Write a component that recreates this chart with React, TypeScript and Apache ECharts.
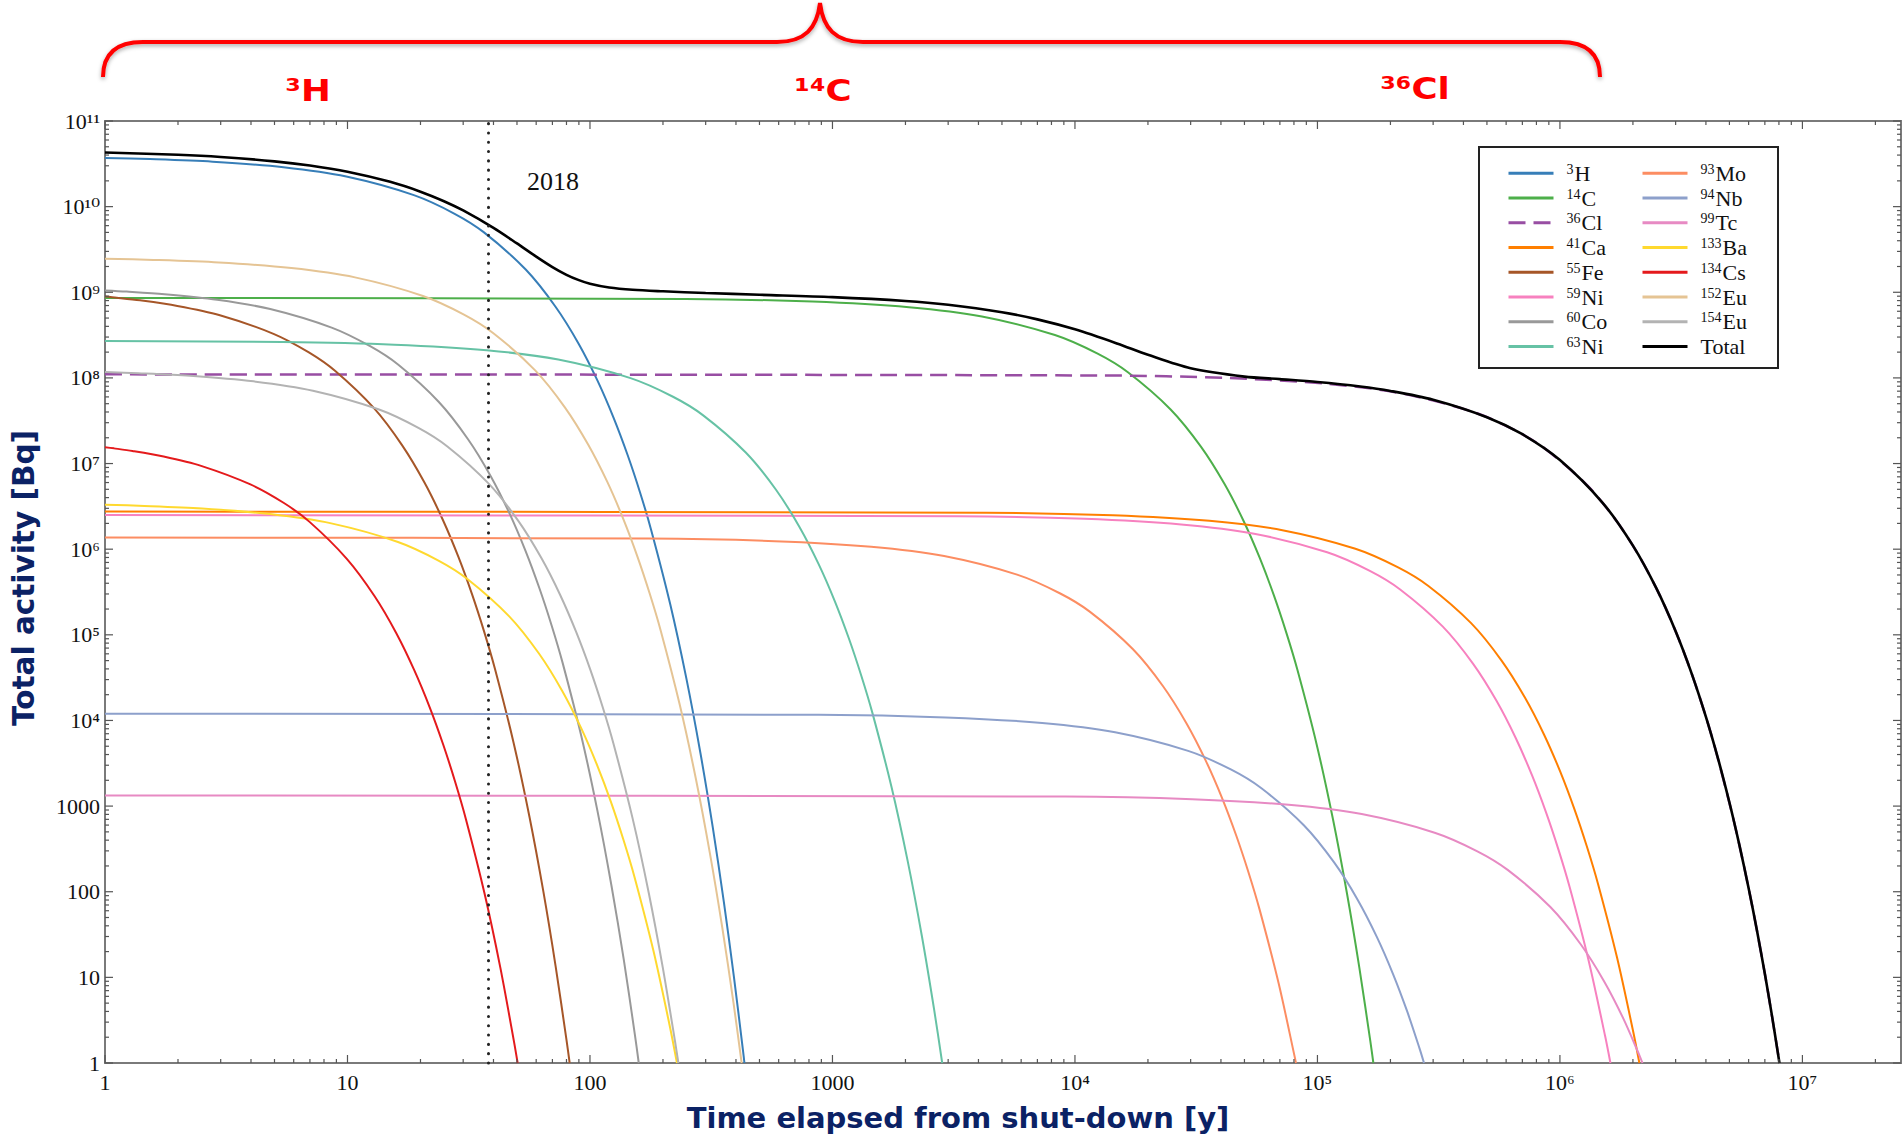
import React, { useEffect, useRef } from "react";
import * as echarts from "echarts";

const WIDTH = 1903;
const HEIGHT = 1137;

const X_MIN = 1;
const X_MAX = 2.55e7;
const Y_MIN = 1;
const Y_MAX = 1e11;

const X_TICK_LABELS = ["1", "10", "100", "1000", "10⁴", "10⁵", "10⁶", "10⁷"];
const Y_TICK_LABELS = ["1", "10", "100", "1000", "10⁴", "10⁵", "10⁶", "10⁷", "10⁸", "10⁹", "10¹⁰", "10¹¹"];

const LEGEND_COL1 = ["³H", "¹⁴C", "³⁶Cl", "⁴¹Ca", "⁵⁵Fe", "⁵⁹Ni", "⁶⁰Co", "⁶³Ni"];
const LEGEND_COL2 = ["⁹³Mo", "⁹⁴Nb", "⁹⁹Tc", "¹³³Ba", "¹³⁴Cs", "¹⁵²Eu", "¹⁵⁴Eu", "Total"];

const BAND_LABELS = ["³H", "¹⁴C", "³⁶Cl"];
const SHUTDOWN_OFFSET = 38;
const SHUTDOWN_LABEL = "2018";
const X_TITLE = "Time elapsed from shut-down [y]";
const Y_TITLE = "Total activity [Bq]";

type Pt = [number, number];

const H3: Pt[] = [[1, 3.7e10], [1.533, 3.59e10], [2.778, 3.348e10], [5.444, 2.882e10], [9.888, 2.244e10], [18.78, 1.361e10], [27.66, 8.255e9], [36.55, 5.006e9], [54.33, 1.842e9], [72.1, 6.778e8], [89.9, 2.493e8], [107.65, 9.17e7], [125.4, 3.374e7], [143.2, 1.241e7], [161.0, 4.566e6], [178.75, 1.68e6], [214.3, 2.273e5], [249.85, 3.077e4], [285.4, 4163], [320.95, 563.5], [356.5, 76.3], [392.05, 10.3], [427.6, 1.397], [433.5, 1]];
const C14: Pt[] = [[1, 8.6e8], [249, 8.345e8], [828, 7.781e8], [2068, 6.698e8], [4134, 5.216e8], [8268, 3.164e8], [12401, 1.919e8], [16535, 1.164e8], [24802, 4.282e7], [33069, 1.576e7], [41336, 5.795e6], [49603, 2.132e6], [57870, 7.843e5], [66137, 2.885e5], [74404, 1.061e5], [82671, 3.904e4], [99205, 5284], [115739, 715.1], [132273, 96.75], [148807, 13.1], [165341, 1.772], [170078, 1]];
const CL36: Pt[] = [[1, 1.1e8], [13029, 1.0674e8], [43428, 9.953e7], [108568, 8.567e7], [217136, 6.672e7], [434271, 4.047e7], [651406, 2.454e7], [868541, 1.488e7], [1.3028e6, 5.477e6], [1.7371e6, 2.015e6], [2.1714e6, 7.412e5], [2.6056e6, 2.727e5], [3.0399e6, 1.003e5], [3.4742e6, 3.691e4], [3.9084e6, 1.357e4], [4.3427e6, 4994], [5.2112e6, 675.8], [6.0798e6, 91.47], [6.9483e6, 12.38], [7.8169e6, 1.675], [8.041e6, 1]];
const CA41: Pt[] = [[1, 2.75e6], [4303, 2.669e6], [14342, 2.488e6], [35853, 2.142e6], [71706, 1.668e6], [143411, 1.012e6], [215116, 6.135e5], [286821, 3.722e5], [430231, 1.369e5], [573641, 5.038e4], [717051, 1.853e4], [860461, 6817], [1.00387e6, 2508], [1.14728e6, 922.6], [1.29069e6, 339.4], [1.4341e6, 124.9], [1.72092e6, 16.9], [2.00774e6, 2.287], [2.12634e6, 1]];
const FE55: Pt[] = [[1, 8.9e8], [1.119, 8.637e8], [1.395, 8.053e8], [1.988, 6.931e8], [2.977, 5.398e8], [4.953, 3.274e8], [6.93, 1.986e8], [8.906, 1.204e8], [12.86, 4.431e7], [16.81, 1.63e7], [20.77, 5.997e6], [24.72, 2.206e6], [28.67, 8.117e5], [32.62, 2.986e5], [36.58, 1.098e5], [40.53, 4.041e4], [48.44, 5468], [56.34, 740], [64.25, 100.1], [72.15, 13.55], [80.06, 1.834], [82.46, 1]];
const NI59: Pt[] = [[1, 2.5e6], [3290, 2.426e6], [10966, 2.262e6], [27413, 1.947e6], [54826, 1.516e6], [109651, 9.198e5], [164476, 5.578e5], [219301, 3.383e5], [328951, 1.245e5], [438601, 4.58e4], [548251, 1.685e4], [657901, 6198], [767551, 2280], [877201, 838.8], [986851, 308.5], [1.0965e6, 113.5], [1.3158e6, 15.36], [1.5351e6, 2.079], [1.6154e6, 1]];
const CO60: Pt[] = [[1, 1.05e9], [1.228, 1.019e9], [1.76, 9.5e8], [2.901, 8.177e8], [4.802, 6.368e8], [8.603, 3.863e8], [12.4, 2.343e8], [16.21, 1.421e8], [23.81, 5.228e7], [31.41, 1.924e7], [39.02, 7.075e6], [46.62, 2.603e6], [54.22, 9.576e5], [61.82, 3.523e5], [69.43, 1.296e5], [77.03, 4.767e4], [92.24, 6451], [107.4, 873.1], [122.6, 118.1], [137.9, 15.99], [153.1, 2.164], [158.9, 1]];
const NI63: Pt[] = [[1, 2.7e8], [5.38, 2.62e8], [15.6, 2.443e8], [37.5, 2.103e8], [74, 1.638e8], [147, 9.933e7], [220, 6.024e7], [293, 3.654e7], [439, 1.344e7], [585, 4.946e6], [731, 1.819e6], [877, 6.693e5], [1023, 2.462e5], [1169, 9.059e4], [1315, 3.332e4], [1461, 1.226e4], [1753, 1659], [2045, 224.5], [2337, 30.38], [2629, 4.112], [2835, 1]];
const MO93: Pt[] = [[1, 1.37e6], [174, 1.329e6], [578, 1.24e6], [1444, 1.067e6], [2887, 8.309e5], [5772, 5.04e5], [8658, 3.057e5], [11543, 1.854e5], [17314, 6.821e4], [23085, 2.51e4], [28856, 9231], [34627, 3396], [40398, 1249], [46169, 459.6], [51940, 169.1], [57711, 62.2], [69253, 8.417], [80795, 1.139], [81545, 1]];
const NB94: Pt[] = [[1, 1.2e4], [879, 1.1645e4], [2930, 1.0858e4], [7323, 9346], [14645, 7278], [29289, 4415], [43933, 2677], [58577, 1624], [87865, 597.5], [117153, 219.8], [146441, 80.86], [175729, 29.75], [205017, 10.94], [234305, 4.026], [263593, 1.481], [275103, 1]];
const TC99: Pt[] = [[1, 1330], [9134, 1291], [30444, 1203], [76108, 1036], [152216, 806.7], [304431, 489.3], [456646, 296.7], [608861, 180], [913291, 66.22], [1.21772e6, 24.36], [1.52215e6, 8.962], [1.82658e6, 3.297], [2.13101e6, 1.213], [2.18977e6, 1]];
const BA133: Pt[] = [[1, 3.3e6], [1.454, 3.202e6], [2.515, 2.986e6], [4.787, 2.57e6], [8.575, 2.001e6], [16.15, 1.214e6], [23.72, 7.363e5], [31.3, 4.466e5], [46.45, 1.643e5], [61.6, 6.044e4], [76.75, 2.224e4], [91.89, 8180], [107.0, 3009], [122.2, 1107], [137.3, 407.2], [152.5, 149.8], [182.8, 20.27], [213.1, 2.744], [228.4, 1]];
const CS134: Pt[] = [[1, 1.55e7], [1.089, 1.504e7], [1.298, 1.4025e7], [1.745, 1.207e7], [2.49, 9.401e6], [3.979, 5.702e6], [5.469, 3.459e6], [6.958, 2.098e6], [9.937, 7.717e5], [12.92, 2.84e5], [15.9, 1.044e5], [18.87, 3.842e4], [21.85, 1.414e4], [24.83, 5200], [27.81, 1913], [30.79, 703.7], [36.75, 95.23], [42.71, 12.89], [48.66, 1.744], [50.32, 1]];
const EU152: Pt[] = [[1, 2.46e9], [1.584, 2.387e9], [2.948, 2.226e9], [5.87, 1.916e9], [10.74, 1.492e9], [20.48, 9.05e8], [30.22, 5.489e8], [39.96, 3.329e8], [59.43, 1.225e8], [78.91, 4.507e7], [98.39, 1.658e7], [117.9, 6.099e6], [137.3, 2.244e6], [156.8, 8.254e5], [176.3, 3.036e5], [195.8, 1.117e5], [234.7, 1.511e4], [273.7, 2045], [312.6, 276.8], [351.6, 37.46], [390.6, 5.07], [422.2, 1]];
const EU154: Pt[] = [[1, 1.17e8], [1.372, 1.135e8], [2.241, 1.059e8], [4.102, 9.112e7], [7.204, 7.096e7], [13.41, 4.304e7], [19.61, 2.61e7], [25.82, 1.583e7], [38.22, 5.825e6], [50.63, 2.143e6], [63.04, 7.883e5], [75.45, 2.9e5], [87.86, 1.067e5], [100.3, 3.925e4], [112.7, 1.444e4], [125.1, 5312], [149.9, 718.8], [174.7, 97.29], [199.5, 13.16], [224.3, 1.782], [231.5, 1]];
const TOTAL: Pt[] = [[1, 4.28e10], [2, 4.03e10], [3, 3.8e10], [5, 3.38e10], [7, 3.02e10], [10, 2.555e10], [15, 1.948e10], [20, 1.496e10], [25, 1.157e10], [30, 9.02e9], [40, 5.65e9], [50, 3.72e9], [60, 2.61e9], [70, 1.97e9], [80, 1.6e9], [90, 1.386e9], [100, 1.258e9], [120, 1.135e9], [150, 1.068e9], [200, 1.026e9], [300, 9.8e8], [500, 9.35e8], [1000, 8.78e8], [2000, 7.91e8], [3000, 7.135e8], [5000, 5.84e8], [7000, 4.825e8], [1e4, 3.69e8], [1.5e4, 2.51e8], [2e4, 1.86e8], [3e4, 1.296e8], [5e4, 1.036e8], [7e4, 9.68e7], [1e5, 8.97e7], [1.5e5, 7.95e7], [2e5, 7.05e7], [3e5, 5.56e7], [5e5, 3.48e7], [7e5, 2.2e7], [1e6, 1.1e7], [1.5e6, 3.48e6], [2e6, 1.1e6], [2.5e6, 3.48e5], [3e6, 1.1e5], [3.5e6, 3.48e4], [4e6, 1.1e4], [4.5e6, 3480], [5e6, 1100], [5.5e6, 348], [6e6, 110], [6.5e6, 34.8], [7e6, 11], [7.5e6, 3.48], [8.04e6, 1]];

const SERIES_DEFS: { name: string; data: Pt[]; color: string; dashed?: boolean }[] = [
  { name: "³H", data: H3, color: "#377eb8" },
  { name: "¹⁴C", data: C14, color: "#4daf4a" },
  { name: "³⁶Cl", data: CL36, color: "#984ea3", dashed: true },
  { name: "⁴¹Ca", data: CA41, color: "#ff7f00" },
  { name: "⁵⁵Fe", data: FE55, color: "#a65628" },
  { name: "⁵⁹Ni", data: NI59, color: "#f781bf" },
  { name: "⁶⁰Co", data: CO60, color: "#999999" },
  { name: "⁶³Ni", data: NI63, color: "#66c2a5" },
  { name: "⁹³Mo", data: MO93, color: "#fc8d62" },
  { name: "⁹⁴Nb", data: NB94, color: "#8da0cb" },
  { name: "⁹⁹Tc", data: TC99, color: "#e78ac3" },
  { name: "¹³³Ba", data: BA133, color: "#ffd92f" },
  { name: "¹³⁴Cs", data: CS134, color: "#e41a1c" },
  { name: "¹⁵²Eu", data: EU152, color: "#e5c494" },
  { name: "¹⁵⁴Eu", data: EU154, color: "#b3b3b3" },
  { name: "Total", data: TOTAL, color: "#000000" },
];

const NAVY = "#0b2265";
const SERIF = '"Liberation Serif", "DejaVu Serif", serif';
const SANS = '"DejaVu Sans", sans-serif';
const SUP_DIGITS = "⁰¹²³⁴⁵⁶⁷⁸⁹";

const BRACE_D =
  "M103,77 C103,55 115,42 143,42 L777,42 C805,42 817,28 820,3 C823,28 835,42 863,42 L1560,42 C1588,42 1600,55 1600,77";
echarts.graphic.registerShape("brace", echarts.graphic.extendPath(BRACE_D, {}));

function tickLabel(labels: string[]) {
  return (v: number) => {
    const l = Math.log10(v);
    const e = Math.round(l);
    if (Math.abs(l - e) > 1e-6) return "";
    return labels[e] ?? "";
  };
}

function legendRich(name: string) {
  let i = 0;
  let mass = "";
  while (i < name.length && SUP_DIGITS.indexOf(name[i]) >= 0) {
    mass += String(SUP_DIGITS.indexOf(name[i]));
    i++;
  }
  const el = name.slice(i);
  return mass ? `{s|${mass}}{b|${el}}` : `{b|${el}}`;
}

function bandLabel(text: string, x: number, y: number) {
  return {
    type: "text",
    x,
    y,
    scaleX: 1.15,
    silent: true,
    style: { text, fill: "#ff0000", font: `bold 31px ${SANS}`, align: "center", verticalAlign: "middle" },
  };
}

function buildOption() {
  const xTickValues = X_TICK_LABELS.map((_, i) => Math.pow(10, i));
  const yTickValues = Y_TICK_LABELS.map((_, i) => Math.pow(10, i));

  const xTicks: number[][] = [];
  for (let d = 0; d <= 7; d++) {
    for (let k = 1; k <= 9; k++) {
      const v = k * Math.pow(10, d);
      if (v <= X_MAX) xTicks.push([v, Y_MIN, k === 1 ? 1 : 0]);
    }
  }
  const yTicks: number[][] = [];
  for (let d = 0; d <= 11; d++) {
    for (let k = 1; k <= 9; k++) {
      const v = k * Math.pow(10, d);
      if (v <= Y_MAX) yTicks.push([X_MIN, v, k === 1 ? 1 : 0]);
    }
  }

  const tickStyle = { stroke: "#555", lineWidth: 1.2 };

  const lineSeries: any[] = SERIES_DEFS.map((s) => {
    const isTotal = s.name === "Total";
    const ser: any = {
      type: "line",
      name: s.name,
      data: s.data,
      color: s.color,
      symbol: "none",
      showSymbol: false,
      smooth: 0.3,
      clip: true,
      silent: true,
      z: isTotal ? 4 : 3,
      lineStyle: {
        color: s.color,
        width: isTotal ? 2.6 : s.dashed ? 2.5 : 2,
        type: s.dashed ? [17, 8] : "solid",
      },
      itemStyle: { color: s.color },
      emphasis: { disabled: true },
    };
    if (isTotal) {
      ser.markLine = {
        silent: true,
        symbol: ["none", "none"],
        label: { show: false },
        lineStyle: { color: "#222", width: 3, type: [0.1, 9.2], cap: "round" },
        data: [{ xAxis: SHUTDOWN_OFFSET }],
      };
    }
    return ser;
  });

  const tickSeries: any[] = [
    {
      type: "custom",
      name: "xticks",
      silent: true,
      z: 5,
      data: xTicks,
      encode: { x: 0, y: 1 },
      renderItem: (_p: any, api: any) => {
        const v = api.value(0);
        const len = api.value(2) ? 8 : 4;
        const b = api.coord([v, Y_MIN]);
        const t = api.coord([v, Y_MAX]);
        return {
          type: "group",
          children: [
            { type: "line", shape: { x1: b[0], y1: b[1], x2: b[0], y2: b[1] - len }, style: tickStyle },
            { type: "line", shape: { x1: t[0], y1: t[1], x2: t[0], y2: t[1] + len }, style: tickStyle },
          ],
        };
      },
    },
    {
      type: "custom",
      name: "yticks",
      silent: true,
      z: 5,
      data: yTicks,
      encode: { x: 0, y: 1 },
      renderItem: (_p: any, api: any) => {
        const v = api.value(1);
        const len = api.value(2) ? 8 : 4;
        const l = api.coord([X_MIN, v]);
        const r = api.coord([X_MAX, v]);
        return {
          type: "group",
          children: [
            { type: "line", shape: { x1: l[0], y1: l[1], x2: l[0] + len, y2: l[1] }, style: tickStyle },
            { type: "line", shape: { x1: r[0], y1: r[1], x2: r[0] - len, y2: r[1] }, style: tickStyle },
          ],
        };
      },
    },
  ];

  const legendCommon = {
    orient: "vertical",
    top: 162.3,
    itemWidth: 45,
    itemHeight: 22,
    itemGap: 2.76,
    padding: 0,
    selectedMode: false,
    z: 10,
    itemStyle: { opacity: 0 },
    lineStyle: { width: 3 },
    formatter: legendRich,
    textStyle: {
      fontFamily: SERIF,
      fontSize: 22,
      lineHeight: 22,
      color: "#111",
      padding: [0, 0, 0, 8],
      rich: {
        s: { fontFamily: SERIF, fontSize: 14, lineHeight: 14, color: "#111", verticalAlign: "top", padding: [0, 1, 8, 0] },
        b: { fontFamily: SERIF, fontSize: 22, lineHeight: 22, color: "#111" },
      },
    },
  };

  return {
    animation: false,
    backgroundColor: "#ffffff",
    textStyle: { fontFamily: SERIF },
    grid: {
      left: 105,
      right: 2,
      top: 121,
      bottom: 74,
      show: true,
      borderColor: "#7a7a7a",
      borderWidth: 2,
      backgroundColor: "transparent",
      containLabel: false,
      outerBoundsMode: "none",
    },
    xAxis: {
      type: "log",
      logBase: 10,
      min: X_MIN,
      max: X_MAX,
      axisLine: { show: false },
      axisTick: { show: false },
      splitLine: { show: false },
      minorTick: { show: false },
      axisLabel: {
        customValues: xTickValues,
        formatter: tickLabel(X_TICK_LABELS),
        fontFamily: SERIF,
        fontSize: 22,
        color: "#111",
        margin: 8,
      },
    },
    yAxis: {
      type: "log",
      logBase: 10,
      min: Y_MIN,
      max: Y_MAX,
      axisLine: { show: false },
      axisTick: { show: false },
      splitLine: { show: false },
      minorTick: { show: false },
      axisLabel: {
        customValues: yTickValues,
        formatter: tickLabel(Y_TICK_LABELS),
        fontFamily: SERIF,
        fontSize: 22,
        color: "#111",
        margin: 5,
      },
    },
    legend: [
      { ...legendCommon, left: 1507, data: LEGEND_COL1 },
      { ...legendCommon, left: 1641, data: LEGEND_COL2 },
    ],
    series: [...lineSeries, ...tickSeries],
    graphic: [
      {
        type: "brace",
        x: 0,
        y: 0,
        silent: true,
        style: {
          stroke: "#ff0000",
          lineWidth: 4,
          fill: "none",
          shadowBlur: 4,
          shadowColor: "rgba(0,0,0,0.35)",
          shadowOffsetY: 2,
        },
      },
      bandLabel(BAND_LABELS[0], 308, 90),
      bandLabel(BAND_LABELS[1], 823, 90),
      bandLabel(BAND_LABELS[2], 1415, 88),
      {
        type: "text",
        x: 527,
        y: 181,
        silent: true,
        style: { text: SHUTDOWN_LABEL, fill: "#111", font: `26px ${SERIF}`, align: "left", verticalAlign: "middle" },
      },
      {
        type: "rect",
        z: 3,
        silent: true,
        shape: { x: 1479, y: 147, width: 299, height: 221 },
        style: { fill: "#ffffff", stroke: "#222", lineWidth: 2 },
      },
      {
        type: "text",
        x: 958,
        y: 1118,
        silent: true,
        style: { text: X_TITLE, fill: NAVY, font: `bold 29px ${SANS}`, align: "center", verticalAlign: "middle" },
      },
      {
        type: "text",
        x: 24,
        y: 578,
        rotation: Math.PI / 2,
        silent: true,
        style: { text: Y_TITLE, fill: NAVY, font: `bold 29.5px ${SANS}`, align: "center", verticalAlign: "middle" },
      },
    ],
  };
}

export default function App() {
  const ref = useRef<HTMLDivElement>(null);
  useEffect(() => {
    if (!ref.current) return;
    const chart = echarts.init(ref.current, null, { renderer: "svg" });
    chart.setOption(buildOption() as any);
    return () => {
      chart.dispose();
    };
  }, []);
  return (
    <div
      ref={ref}
      style={{ position: "fixed", left: 0, top: 0, width: WIDTH, height: HEIGHT, background: "#ffffff" }}
    />
  );
}
